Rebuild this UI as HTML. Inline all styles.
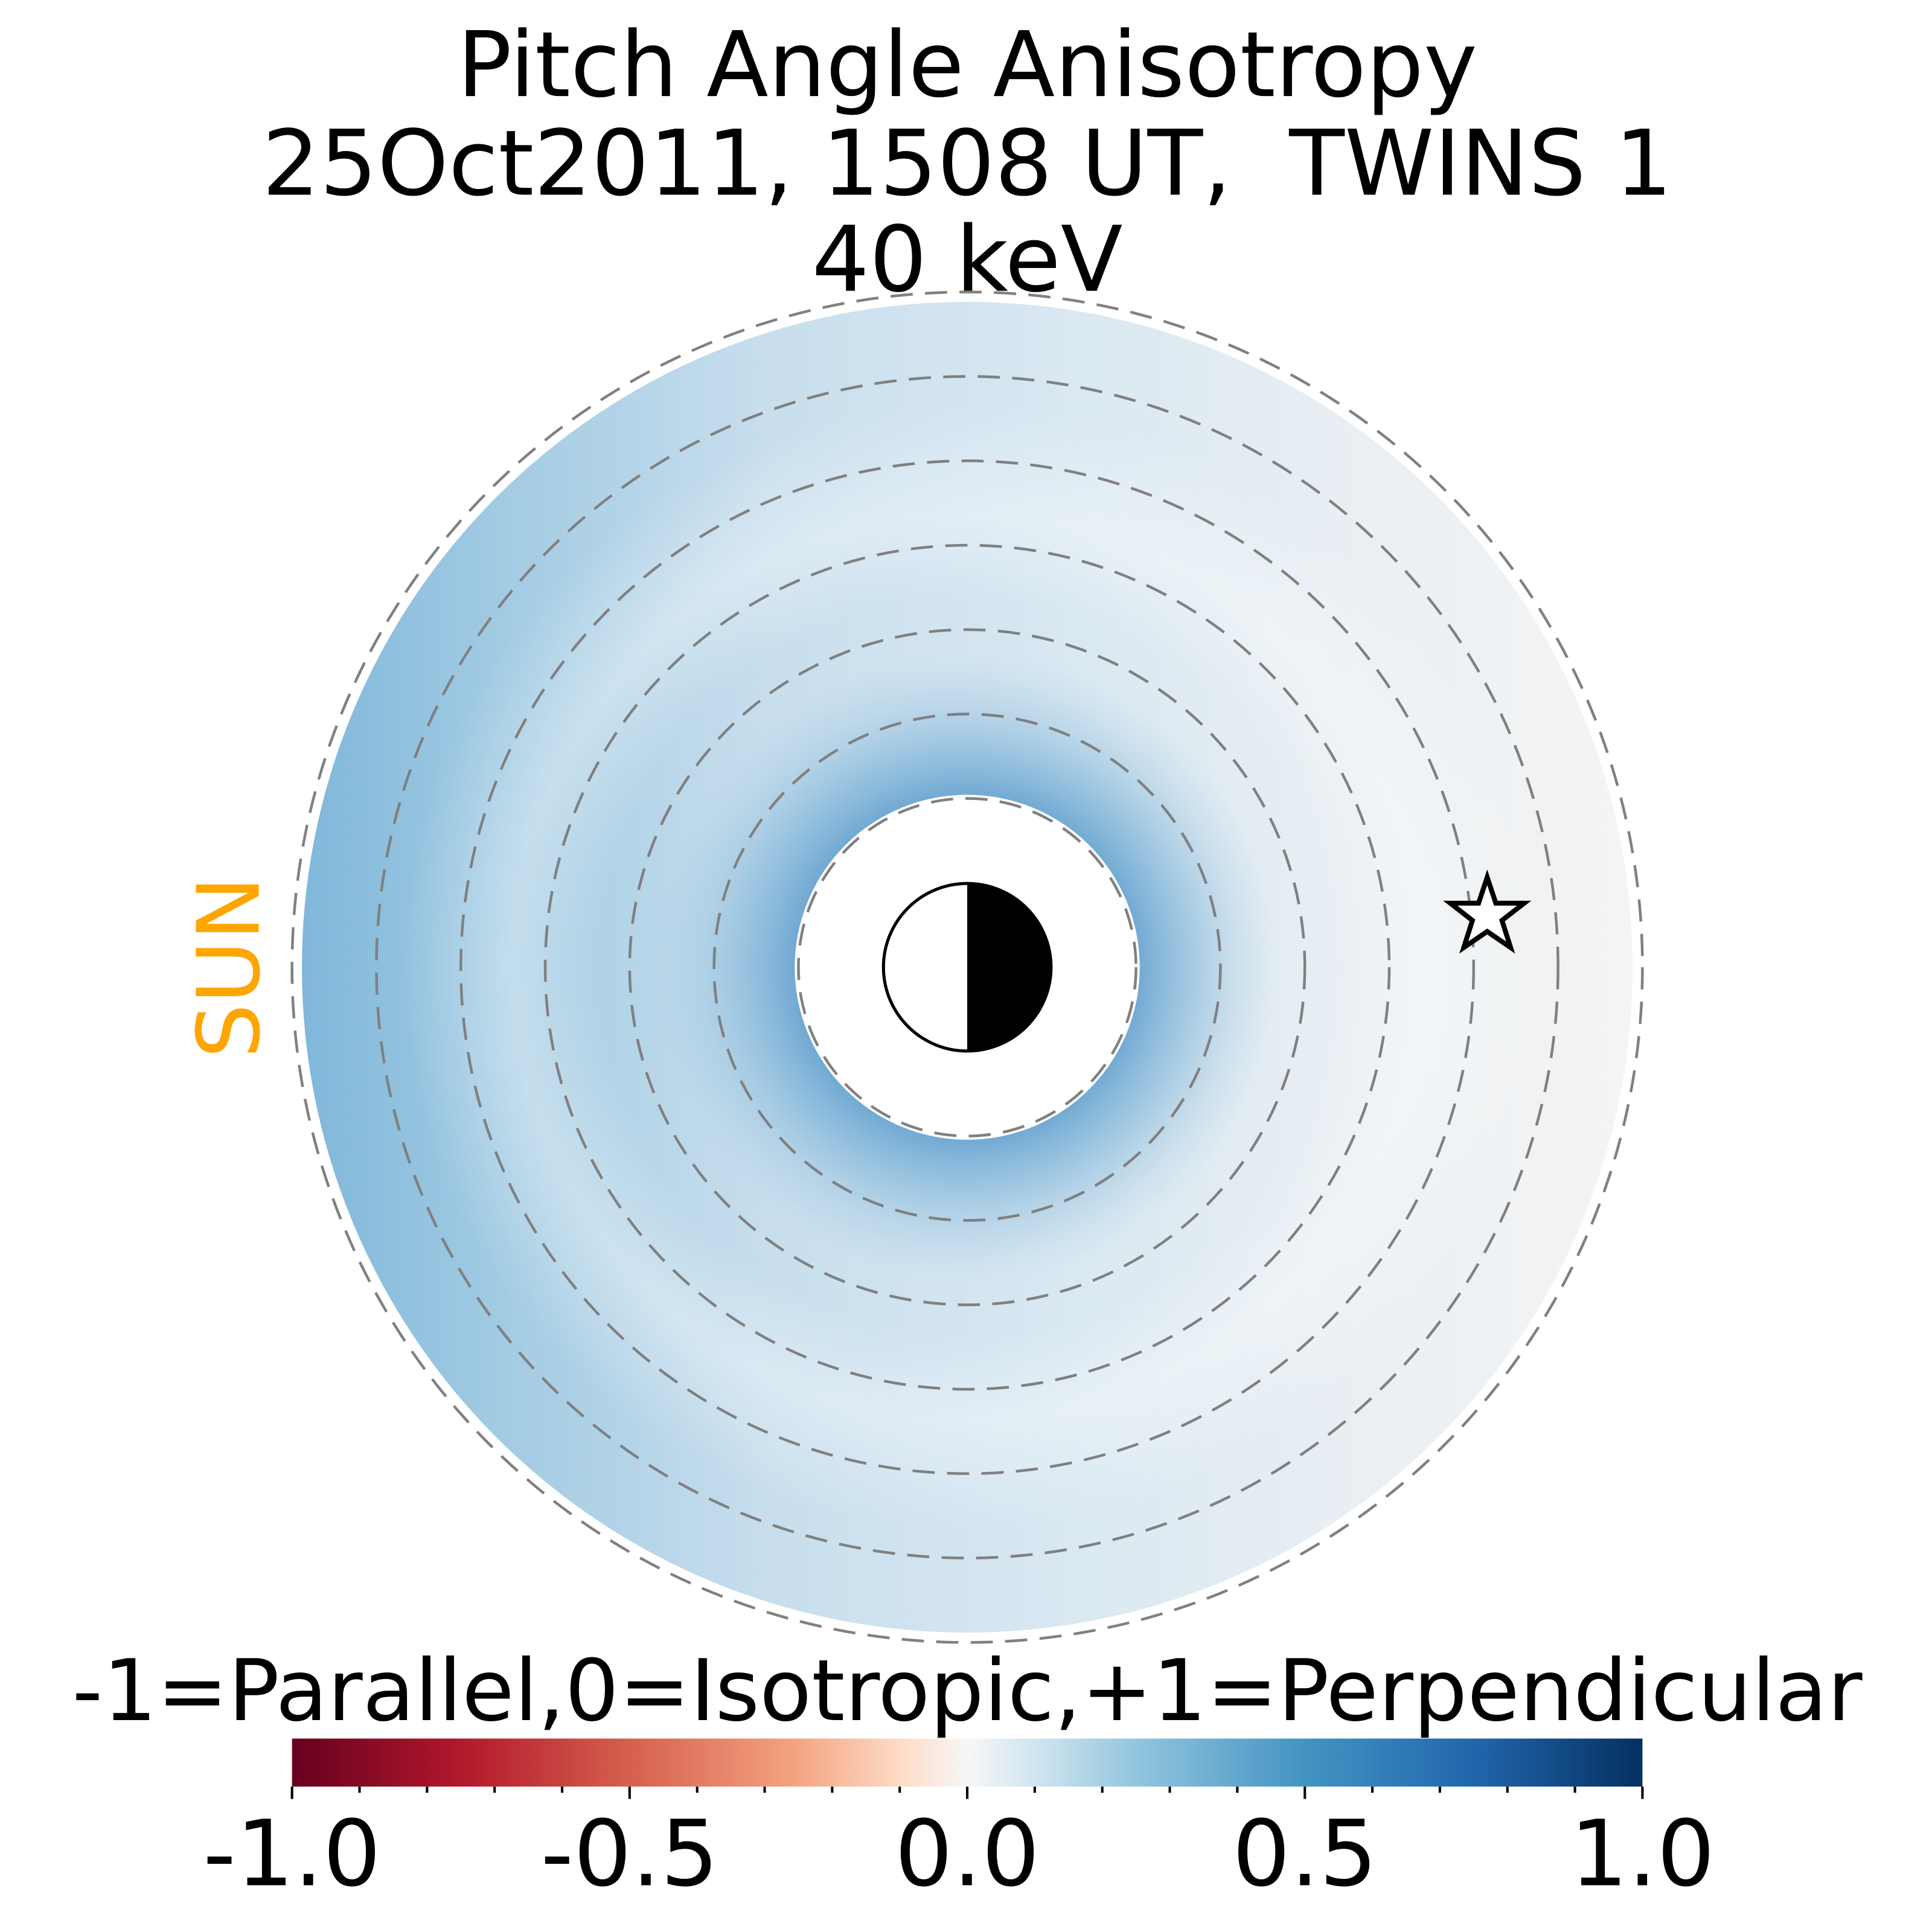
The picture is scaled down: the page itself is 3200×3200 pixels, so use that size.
<!DOCTYPE html>
<html><head><meta charset="utf-8"><style>
html,body{margin:0;padding:0;background:#fff;width:3200px;height:3200px;overflow:hidden}
svg{display:block}
text{font-family:"DejaVu Sans","Liberation Sans",sans-serif}
</style></head><body>
<svg width="3200" height="3200" viewBox="0 0 1568 1568" xmlns="http://www.w3.org/2000/svg">
<defs>
<linearGradient id="base" x1="245" y1="0" x2="1325" y2="0" gradientUnits="userSpaceOnUse">
<stop offset="0" stop-color="#80b7da"/>
<stop offset="0.15" stop-color="#a2cbe3"/>
<stop offset="0.35" stop-color="#c8deed"/>
<stop offset="0.6" stop-color="#dbe9f2"/>
<stop offset="0.8" stop-color="#eaeff3"/>
<stop offset="1" stop-color="#f4f4f4"/>
</linearGradient>
<radialGradient id="ring" cx="785" cy="785" r="300" gradientUnits="userSpaceOnUse">
<stop offset="0.45" stop-color="#609fce" stop-opacity="0.9"/>
<stop offset="0.6" stop-color="#7ab1d7" stop-opacity="0.6"/>
<stop offset="0.85" stop-color="#a7cde4" stop-opacity="0"/>
</radialGradient>
<radialGradient id="band" cx="785" cy="785" r="540" gradientUnits="userSpaceOnUse">
<stop offset="0.55" stop-color="#ffffff" stop-opacity="0"/>
<stop offset="0.68" stop-color="#ffffff" stop-opacity="0.35"/>
<stop offset="0.85" stop-color="#ffffff" stop-opacity="0"/>
</radialGradient>
<linearGradient id="cb" x1="0" y1="0" x2="1" y2="0">
<stop offset="0" stop-color="#67001f"/>
<stop offset="0.125" stop-color="#b2182b"/>
<stop offset="0.25" stop-color="#d6604d"/>
<stop offset="0.375" stop-color="#f4a582"/>
<stop offset="0.45" stop-color="#fddbc7"/>
<stop offset="0.5" stop-color="#f7f7f7"/>
<stop offset="0.55" stop-color="#d1e5f0"/>
<stop offset="0.625" stop-color="#92c5de"/>
<stop offset="0.75" stop-color="#4393c3"/>
<stop offset="0.875" stop-color="#2166ac"/>
<stop offset="1" stop-color="#053061"/>
</linearGradient>
</defs>
<text x="785" y="78" font-size="73.5" text-anchor="middle">Pitch Angle Anisotropy</text>
<text x="785" y="158" font-size="73.5" text-anchor="middle">25Oct2011, 1508 UT,&#160;&#160;TWINS 1</text>
<text x="785" y="236" font-size="73.5" text-anchor="middle">40 keV</text>

<circle cx="785" cy="785" r="540" fill="url(#base)"/>
<circle cx="785" cy="785" r="540" fill="url(#band)"/>
<circle cx="785" cy="785" r="300" fill="url(#ring)"/>
<circle cx="785" cy="785" r="140" fill="#fff"/>

<g fill="none" stroke="#808080" stroke-width="2.2" stroke-dasharray="18,10">
<circle cx="785" cy="785" r="137"/>
<circle cx="785" cy="785" r="205.5"/>
<circle cx="785" cy="785" r="274"/>
<circle cx="785" cy="785" r="342.5"/>
<circle cx="785" cy="785" r="411"/>
<circle cx="785" cy="785" r="479.5"/>
<circle cx="785" cy="785" r="548"/>
</g>

<circle cx="785" cy="785" r="68" fill="#fff" stroke="#000" stroke-width="2.5"/>
<path d="M785,717 A68,68 0 0 1 785,853 Z" fill="#000"/>

<polygon points="1207,712 1214,733 1237,733 1219,747 1226,769 1207,756 1188,769 1195,747 1177,733 1200,733" fill="#fff" stroke="#000" stroke-width="4"/>

<text transform="translate(210,785) rotate(-90)" font-size="70" fill="#ffa500" text-anchor="middle">SUN</text>

<text x="785" y="1396" font-size="69" text-anchor="middle">-1=Parallel,0=Isotropic,+1=Perpendicular</text>
<rect x="237" y="1411" width="1096" height="39" fill="url(#cb)"/>
<g stroke="#000" stroke-width="2">
<line x1="237" y1="1450" x2="237" y2="1460"/>
<line x1="511" y1="1450" x2="511" y2="1460"/>
<line x1="785" y1="1450" x2="785" y2="1460"/>
<line x1="1059" y1="1450" x2="1059" y2="1460"/>
<line x1="1333" y1="1450" x2="1333" y2="1460"/>
<line x1="291.8" y1="1450" x2="291.8" y2="1455"/>
<line x1="346.6" y1="1450" x2="346.6" y2="1455"/>
<line x1="401.4" y1="1450" x2="401.4" y2="1455"/>
<line x1="456.2" y1="1450" x2="456.2" y2="1455"/>
<line x1="565.8" y1="1450" x2="565.8" y2="1455"/>
<line x1="620.6" y1="1450" x2="620.6" y2="1455"/>
<line x1="675.4" y1="1450" x2="675.4" y2="1455"/>
<line x1="730.2" y1="1450" x2="730.2" y2="1455"/>
<line x1="839.8" y1="1450" x2="839.8" y2="1455"/>
<line x1="894.6" y1="1450" x2="894.6" y2="1455"/>
<line x1="949.4" y1="1450" x2="949.4" y2="1455"/>
<line x1="1004.2" y1="1450" x2="1004.2" y2="1455"/>
<line x1="1113.8" y1="1450" x2="1113.8" y2="1455"/>
<line x1="1168.6" y1="1450" x2="1168.6" y2="1455"/>
<line x1="1223.4" y1="1450" x2="1223.4" y2="1455"/>
<line x1="1278.2" y1="1450" x2="1278.2" y2="1455"/>
</g>
<g font-size="74" text-anchor="middle">
<text x="237" y="1530">-1.0</text>
<text x="511" y="1530">-0.5</text>
<text x="785" y="1530">0.0</text>
<text x="1059" y="1530">0.5</text>
<text x="1333" y="1530">1.0</text>
</g>
</svg>
</body></html>
